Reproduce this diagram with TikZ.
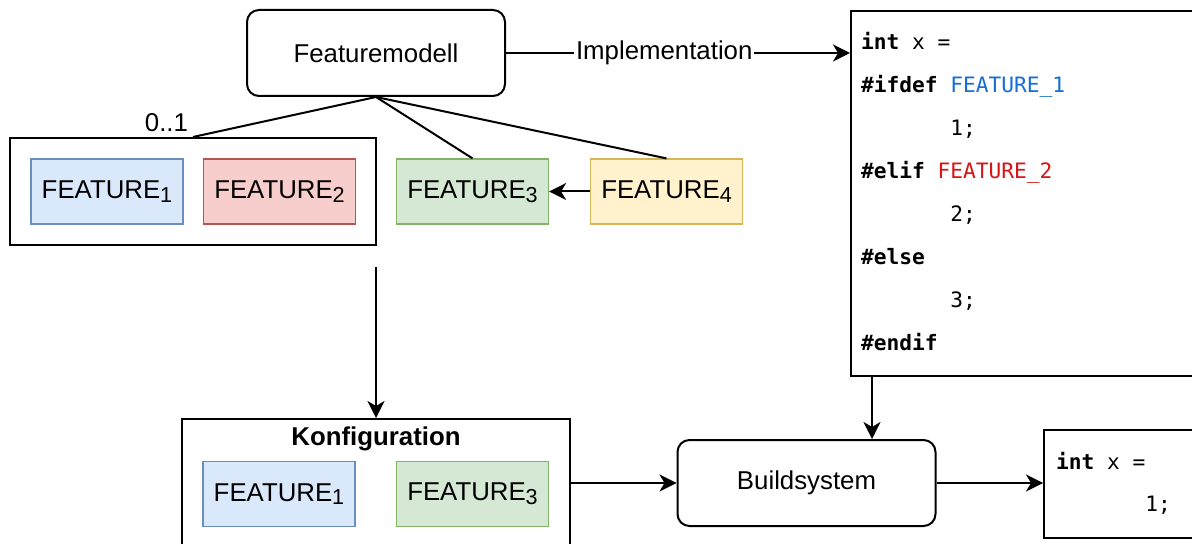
\documentclass[tikz,border=0pt]{standalone}
\usepackage{fontspec}
\setmainfont{Liberation Sans}
\newfontfamily\codefont{DejaVu Sans Mono}
\usetikzlibrary{positioning,arrows.meta,calc}
\definecolor{bluefill}{HTML}{DAE8FC}
\definecolor{blueedge}{HTML}{6C8EBF}
\definecolor{redfill}{HTML}{F8CECC}
\definecolor{rededge}{HTML}{B85450}
\definecolor{greenfill}{HTML}{D5E8D4}
\definecolor{greenedge}{HTML}{82B366}
\definecolor{yellowfill}{HTML}{FFF2CC}
\definecolor{yellowedge}{HTML}{D6B656}
\definecolor{codeblue}{RGB}{20,110,215}
\definecolor{codered}{RGB}{215,20,20}
\newcommand{\fsub}[1]{\raisebox{-1.8pt}{\fontsize{10.8}{12}\selectfont #1}}

\begin{document}
\begin{tikzpicture}[x=0.5pt,y=-0.5pt,line width=1pt,
    font=\fontsize{12.9}{15}\selectfont,
    box/.style={draw,rounded corners=6pt,minimum width=129pt,minimum height=43pt},
    feat/.style={draw=#1edge,fill=#1fill,line width=0.6pt,
        minimum width=76pt,minimum height=32.5pt,inner sep=0pt},
    frame/.style={draw,inner sep=0pt},
    codeline/.style={font=\codefont\fontsize{10.6}{13}\selectfont,anchor=west,
        inner sep=0pt,text height=1.6ex,text depth=0.4ex},
    arr/.style={-{Stealth[length=8.5pt,width=8.5pt,inset=2.5pt]}}]
    \useasboundingbox (0,0) rectangle (1192,544);

    % feature model
    \node[box] (fm) at (376,53) {Featuremodell};
    \node[frame,minimum width=183pt,minimum height=53.5pt] (group) at (193,191.5) {};
    \node[feat=blue] (f1) at (107,191.5) {FEATURE\fsub{1}};
    \node[feat=red] (f2) at (279.5,191.5) {FEATURE\fsub{2}};
    \node[feat=green] (f3) at (472.5,191.5) {FEATURE\fsub{3}};
    \node[feat=yellow] (f4) at (666.5,191.5) {FEATURE\fsub{4}};

    \draw (fm.south) -- (group.north)
        node[pos=1,anchor=south east,inner sep=2pt] (card) {0..1};
    \draw (fm.south) -- (f3.north);
    \draw (fm.south) -- (f4.north);
    \draw[arr] (f4) -- (f3);

    % preprocessor source
    \node[frame,anchor=north west,minimum width=190pt,minimum height=182.5pt] (code) at (850,10) {};
    \foreach \txt [count=\i] in {{\textbf{int} x =},
        {\textbf{\#ifdef} \textcolor{codeblue}{FEATURE\_1}},
        {\hphantom{0000000}1;},
        {\textbf{\#elif} \textcolor{codered}{FEATURE\_2}},
        {\hphantom{0000000}2;},
        {\textbf{\#else}},
        {\hphantom{0000000}3;},
        {\textbf{\#endif}}}
        \node[codeline] (line\i) at (860,{43*\i}) {\txt};

    \draw[arr] (fm) -- node[fill=white,inner sep=1pt,pos=0.46] (impl) {Implementation}
        (code.west |- fm);

    % configuration
    \node[frame,anchor=north,minimum width=194pt,minimum height=70pt] (cfg) at (376,418) {};
    \node (cfgtitle) at (376,439) {\textbf{Konfiguration}};
    \node[feat=blue] (c1) at (279,494) {FEATURE\fsub{1}};
    \node[feat=green] (c3) at (472.5,494) {FEATURE\fsub{3}};

    \coordinate (sel) at (376,267);
    \draw[arr] (sel) -- (cfg.north);

    % build
    \node[box] (build) at (806.5,483) {Buildsystem};
    \node[frame,anchor=north west,minimum width=100pt,minimum height=54pt] (out) at (1043,429) {};
    \node[codeline] (outa) at (1055,463) {\textbf{int} x =};
    \node[codeline] (outb) at (1055,505) {\hphantom{0000000}1;};

    \draw[arr] (cfg.east |- build) -- (build);
    \draw[arr] ([xshift=11pt]code.south west) -- ([xshift=11pt]code.south west |- build.north);
    \draw[arr] (build) -- (out.west |- build);
\end{tikzpicture}
\end{document}
